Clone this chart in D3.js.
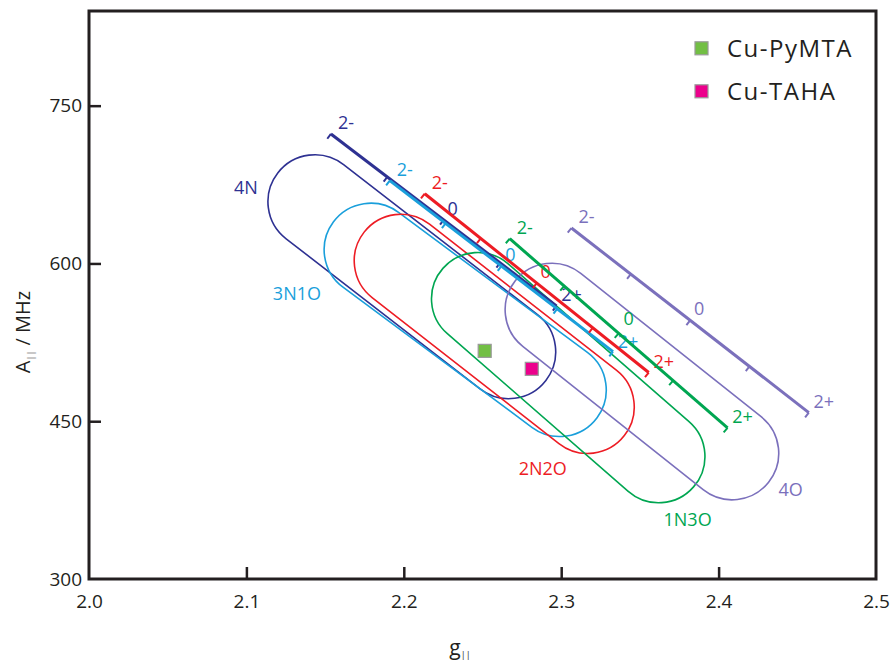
<!DOCTYPE html>
<html>
<head>
<meta charset="utf-8">
<script src="https://cdn.jsdelivr.net/npm/d3@7"></script>
<style>
  html, body { margin: 0; padding: 0; background: #fff; }
  svg { display: block; font-family: "Open Sans", "Noto Sans", sans-serif; }
</style>
</head>
<body>
<svg id="chart" width="893" height="662"></svg>
<script>
// ---------------- DATA ----------------
const groups = ["4N", "3N1O", "2N2O", "1N3O", "4O"];

// capsule (stadium) regions: centre of upper-left cap and lower-right cap (g, A), half-width in g units
const capStartG = [2.1435, 2.1790, 2.1981, 2.2470, 2.2940];
const capStartA = [658.7, 613.0, 602.5, 566.4, 555.9];
const capEndG   = [2.2667, 2.2990, 2.3168, 2.3619, 2.4086];
const capEndA   = [516.0, 479.8, 463.6, 416.5, 419.6];
const capHalfWidthG = [0.0298, 0.0296, 0.0296, 0.0294, 0.0296];

// total-charge lines: charge 2- end and charge 2+ end (g, A)
const chargeStartG = [2.1537, 2.1911, 2.2133, 2.2673, 2.3065];
const chargeStartA = [723.1, 678.7, 666.3, 623.5, 633.7];
const chargeEndG   = [2.2970, 2.3329, 2.3556, 2.4057, 2.4573];
const chargeEndA   = [559.7, 516.2, 496.3, 443.7, 458.2];
const chargeTicks  = [-2, -1, 0, 1, 2];
const chargeTickLabels = ["2-", "", "0", "", "2+"];

// group label anchors (g, A)
const groupLabelG = [2.0997, 2.1321, 2.2883, 2.3803, 2.4457];
const groupLabelA = [672.7, 571.9, 405.5, 357.0, 385.6];

// measured complexes
const complexNames = ["Cu-PyMTA", "Cu-TAHA"];
const complexG = [2.2514, 2.2813];
const complexA = [516.9, 499.8];

// axes
const xTickValues = [2.0, 2.1, 2.2, 2.3, 2.4, 2.5];
const yTickValues = [300, 450, 600, 750];

// ---------------- STYLE ----------------
const groupColors = ["#2E3192", "#1A9FDB", "#ED1C24", "#00A651", "#7B70BC"];
const complexColors = ["#72BF44", "#EC008C"];
const ink = "#231F20";

const svg = d3.select("#chart");
const x = d3.scaleLinear().domain([2.0, 2.5]).range([89, 876]);
const y = d3.scaleLinear().domain([300, 840]).range([579, 11]);
const chargeScale = d3.scaleLinear().domain([-2, 2]).range([0, 1]);

// ---------- capsules ----------
groups.forEach((g, i) => {
  const x1 = x(capStartG[i]), y1 = y(capStartA[i]);
  const x2 = x(capEndG[i]),   y2 = y(capEndA[i]);
  const r = x(2.0 + capHalfWidthG[i]) - x(2.0);
  const len = Math.hypot(x2 - x1, y2 - y1);
  const ux = (x2 - x1) / len, uy = (y2 - y1) / len;
  const nx = uy, ny = -ux; // upper-right normal
  const p = d3.path();
  p.moveTo(x1 + r * nx, y1 + r * ny);
  p.lineTo(x2 + r * nx, y2 + r * ny);
  const a0 = Math.atan2(ny, nx);
  p.arc(x2, y2, r, a0, a0 + Math.PI, false);
  p.lineTo(x1 - r * nx, y1 - r * ny);
  p.arc(x1, y1, r, a0 + Math.PI, a0 + 2 * Math.PI, false);
  p.closePath();
  svg.append("path").attr("d", p.toString())
    .attr("fill", "none").attr("stroke", groupColors[i]).attr("stroke-width", 1.6);
});

// ---------- charge lines ----------
groups.forEach((g, i) => {
  const x1 = x(chargeStartG[i]), y1 = y(chargeStartA[i]);
  const x2 = x(chargeEndG[i]),   y2 = y(chargeEndA[i]);
  const len = Math.hypot(x2 - x1, y2 - y1);
  const ux = (x2 - x1) / len, uy = (y2 - y1) / len;
  const dx = -uy, dy = ux; // lower-left normal
  const col = groupColors[i];
  svg.append("line").attr("x1", x1).attr("y1", y1).attr("x2", x2).attr("y2", y2)
    .attr("stroke", col).attr("stroke-width", 3);
  chargeTicks.forEach((c, k) => {
    const t = chargeScale(c);
    const px = x1 + (x2 - x1) * t, py = y1 + (y2 - y1) * t;
    const tl = 6;
    svg.append("line").attr("x1", px).attr("y1", py)
      .attr("x2", px + dx * tl).attr("y2", py + dy * tl)
      .attr("stroke", col).attr("stroke-width", 2);
    const lab = chargeTickLabels[k];
    if (lab) {
      let ox = c === 0 ? 9 : 15, oy = -12;
      if (c === 2 && i === 1) oy = -11;
      if (c === 0 && i === 3) { oy = -15; ox = 10; }
      svg.append("text").attr("x", px + ox).attr("y", py + oy)
        .attr("text-anchor", "middle").attr("dominant-baseline", "central")
        .attr("font-size", 18).attr("fill", col).text(lab);
    }
  });
  svg.append("text").attr("x", x(groupLabelG[i])).attr("y", y(groupLabelA[i]))
    .attr("text-anchor", "middle").attr("dominant-baseline", "central")
    .attr("font-size", 18).attr("fill", col).text(g);
});

// ---------- complexes ----------
complexNames.forEach((n, i) => {
  const s = 13;
  svg.append("rect").attr("x", x(complexG[i]) - s / 2).attr("y", y(complexA[i]) - s / 2)
    .attr("width", s).attr("height", s)
    .attr("fill", complexColors[i]).attr("stroke", "#9a9a9a").attr("stroke-width", 1.2);
});

// ---------- legend ----------
complexNames.forEach((n, i) => {
  const cy = 48.3 + i * 43;
  svg.append("rect").attr("x", 695).attr("y", cy - 6.5).attr("width", 13).attr("height", 13)
    .attr("fill", complexColors[i]).attr("stroke", "#9a9a9a").attr("stroke-width", 1.2);
  svg.append("text").attr("x", 727).attr("y", cy + 8.5).attr("font-size", 24)
    .attr("letter-spacing", 1.5).attr("fill", ink).text(n);
});

// ---------- axes ----------
const gx = svg.append("g").attr("transform", "translate(0,579)")
  .call(d3.axisBottom(x).tickValues(xTickValues).tickFormat(d3.format(".1f"))
    .tickSizeInner(-12).tickSizeOuter(0).tickPadding(16));
gx.select(".domain").remove();
gx.selectAll(".tick line").attr("stroke", ink).attr("stroke-width", 2.5)
  .attr("display", d => (d === 2.0 || d === 2.5) ? "none" : null);
gx.selectAll(".tick text").attr("font-size", 19).attr("fill", ink)
  .attr("font-family", "Open Sans, sans-serif");

const gy = svg.append("g").attr("transform", "translate(89,0)")
  .call(d3.axisLeft(y).tickValues(yTickValues).tickSizeInner(-12).tickSizeOuter(0).tickPadding(7));
gy.select(".domain").remove();
gy.selectAll(".tick line").attr("stroke", ink).attr("stroke-width", 2.5)
  .attr("display", d => d === 300 ? "none" : null);
gy.selectAll(".tick text").attr("font-size", 19).attr("fill", ink)
  .attr("font-family", "Open Sans, sans-serif");

// frame
svg.append("rect").attr("x", 89).attr("y", 11).attr("width", 787).attr("height", 568)
  .attr("fill", "none").attr("stroke", ink).attr("stroke-width", 3);

// axis titles
const yt = svg.append("text").attr("transform", "translate(30,332) rotate(-90)")
  .attr("text-anchor", "middle").attr("font-size", 20).attr("fill", ink);
yt.append("tspan").text("A");
yt.append("tspan").attr("font-size", 9).attr("dy", 4).text("||");
yt.append("tspan").attr("dy", -4).text(" / MHz");

const xt = svg.append("text").attr("x", 460).attr("y", 655)
  .attr("text-anchor", "middle").attr("font-size", 21).attr("fill", ink);
xt.append("tspan").text("g");
xt.append("tspan").attr("font-size", 9).attr("dy", 3).text("||");
</script>
</body>
</html>
